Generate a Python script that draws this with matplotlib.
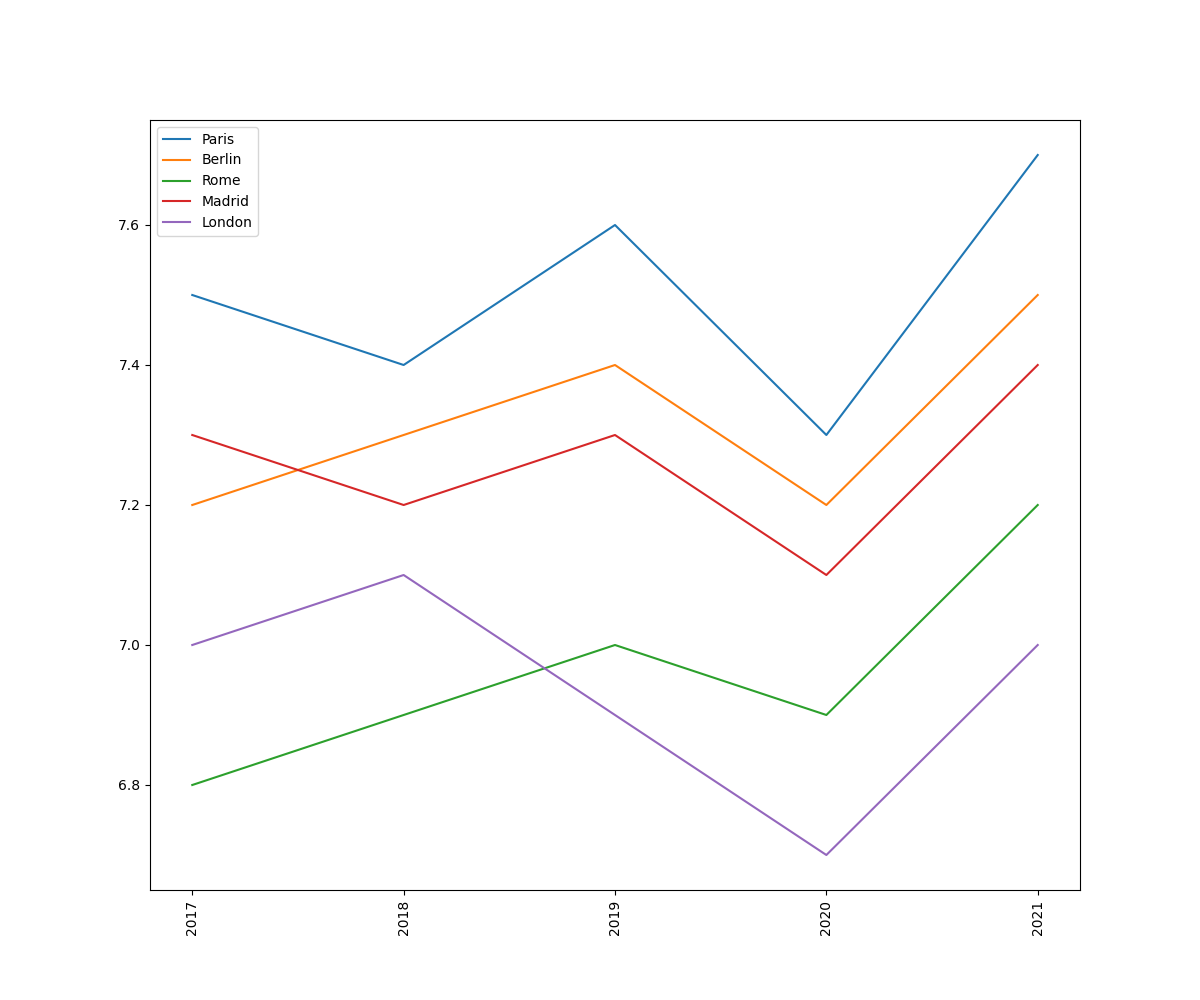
import numpy as np
import matplotlib
matplotlib.use('Agg')
import matplotlib.pyplot as plt

years = ['2017', '2018', '2019', '2020', '2021']
paris = [7.5, 7.4, 7.6, 7.3, 7.7]
berlin = [7.2, 7.3, 7.4, 7.2, 7.5]
rome = [6.8, 6.9, 7.0, 6.9, 7.2]
madrid = [7.3, 7.2, 7.3, 7.1, 7.4]
london = [7.0, 7.1, 6.9, 6.7, 7.0]

fig, ax = plt.subplots(figsize=(12, 10), dpi=100)
ax.plot(years, paris, label='Paris')
ax.plot(years, berlin, label='Berlin')
ax.plot(years, rome, label='Rome')
ax.plot(years, madrid, label='Madrid')
ax.plot(years, london, label='London')
ax.legend(loc='upper left')
plt.xticks(rotation=90)
fig.savefig('out.png')
